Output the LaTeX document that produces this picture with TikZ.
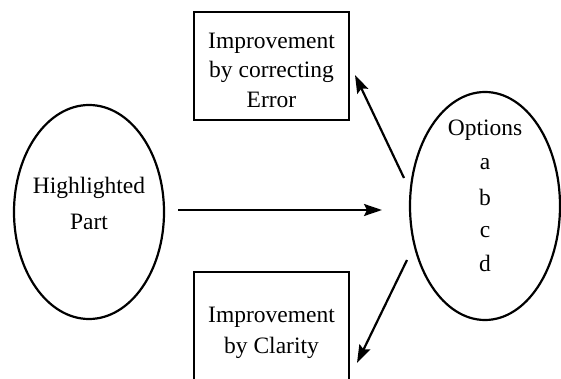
\documentclass[tikz,border=0pt]{standalone}
\usepackage{fontspec}
\setmainfont{Liberation Serif}
\usetikzlibrary{shapes.geometric,arrows.meta}
\begin{document}
\begin{tikzpicture}[x=1pt,y=-1pt,
  oval/.style={draw,line width=2.2pt,ellipse,inner sep=0pt},
  boxnode/.style={draw,line width=2.2pt,inner sep=0pt},
  lbl/.style={font=\fontsize{23.5}{28}\selectfont,align=center,inner sep=0pt},
  arr/.style={line width=2.2pt,-{Stealth[length=18pt,width=12pt,inset=3pt]}}]
\useasboundingbox (0,0) rectangle (561,379);
\node[oval,minimum width=150pt,minimum height=214pt] (hl) at (89,212) {};
\node[oval,minimum width=150pt,minimum height=228pt] (op) at (485,206) {};
\node[boxnode,minimum width=155pt,minimum height=108pt] (top) at (271.5,66) {};
\draw[line width=2.2pt] (194,390) |- (349,272) -- (349,390);
\coordinate (bot) at (271.5,330);
\node[lbl] (t1) at (89,188) {Highlighted};
\node[lbl] (t2) at (89,222) {Part};
\node[lbl] (u1) at (271.5,43) {Improvement};
\node[lbl] (u2) at (271.5,72) {by correcting};
\node[lbl] (u3) at (271.5,100) {Error};
\node[lbl] (v1) at (271.5,317) {Improvement};
\node[lbl] (v2) at (271.5,348) {by Clarity};
\node[lbl] (o1) at (485,130) {Options};
\node[lbl] (o2) at (485,164) {a};
\node[lbl] (o3) at (485,197) {b};
\node[lbl] (o4) at (485,232) {c};
\node[lbl] (o5) at (485,263) {d};
\coordinate (hs) at (178,210);
\coordinate (he) at (382,210);
\coordinate (us) at (404,178);
\coordinate (ue) at (355,75);
\coordinate (ls) at (407,260);
\coordinate (le) at (357,363);
\draw[arr] (hs) -- (he);
\draw[arr] (us) -- (ue);
\draw[arr] (ls) -- (le);
\end{tikzpicture}
\end{document}
